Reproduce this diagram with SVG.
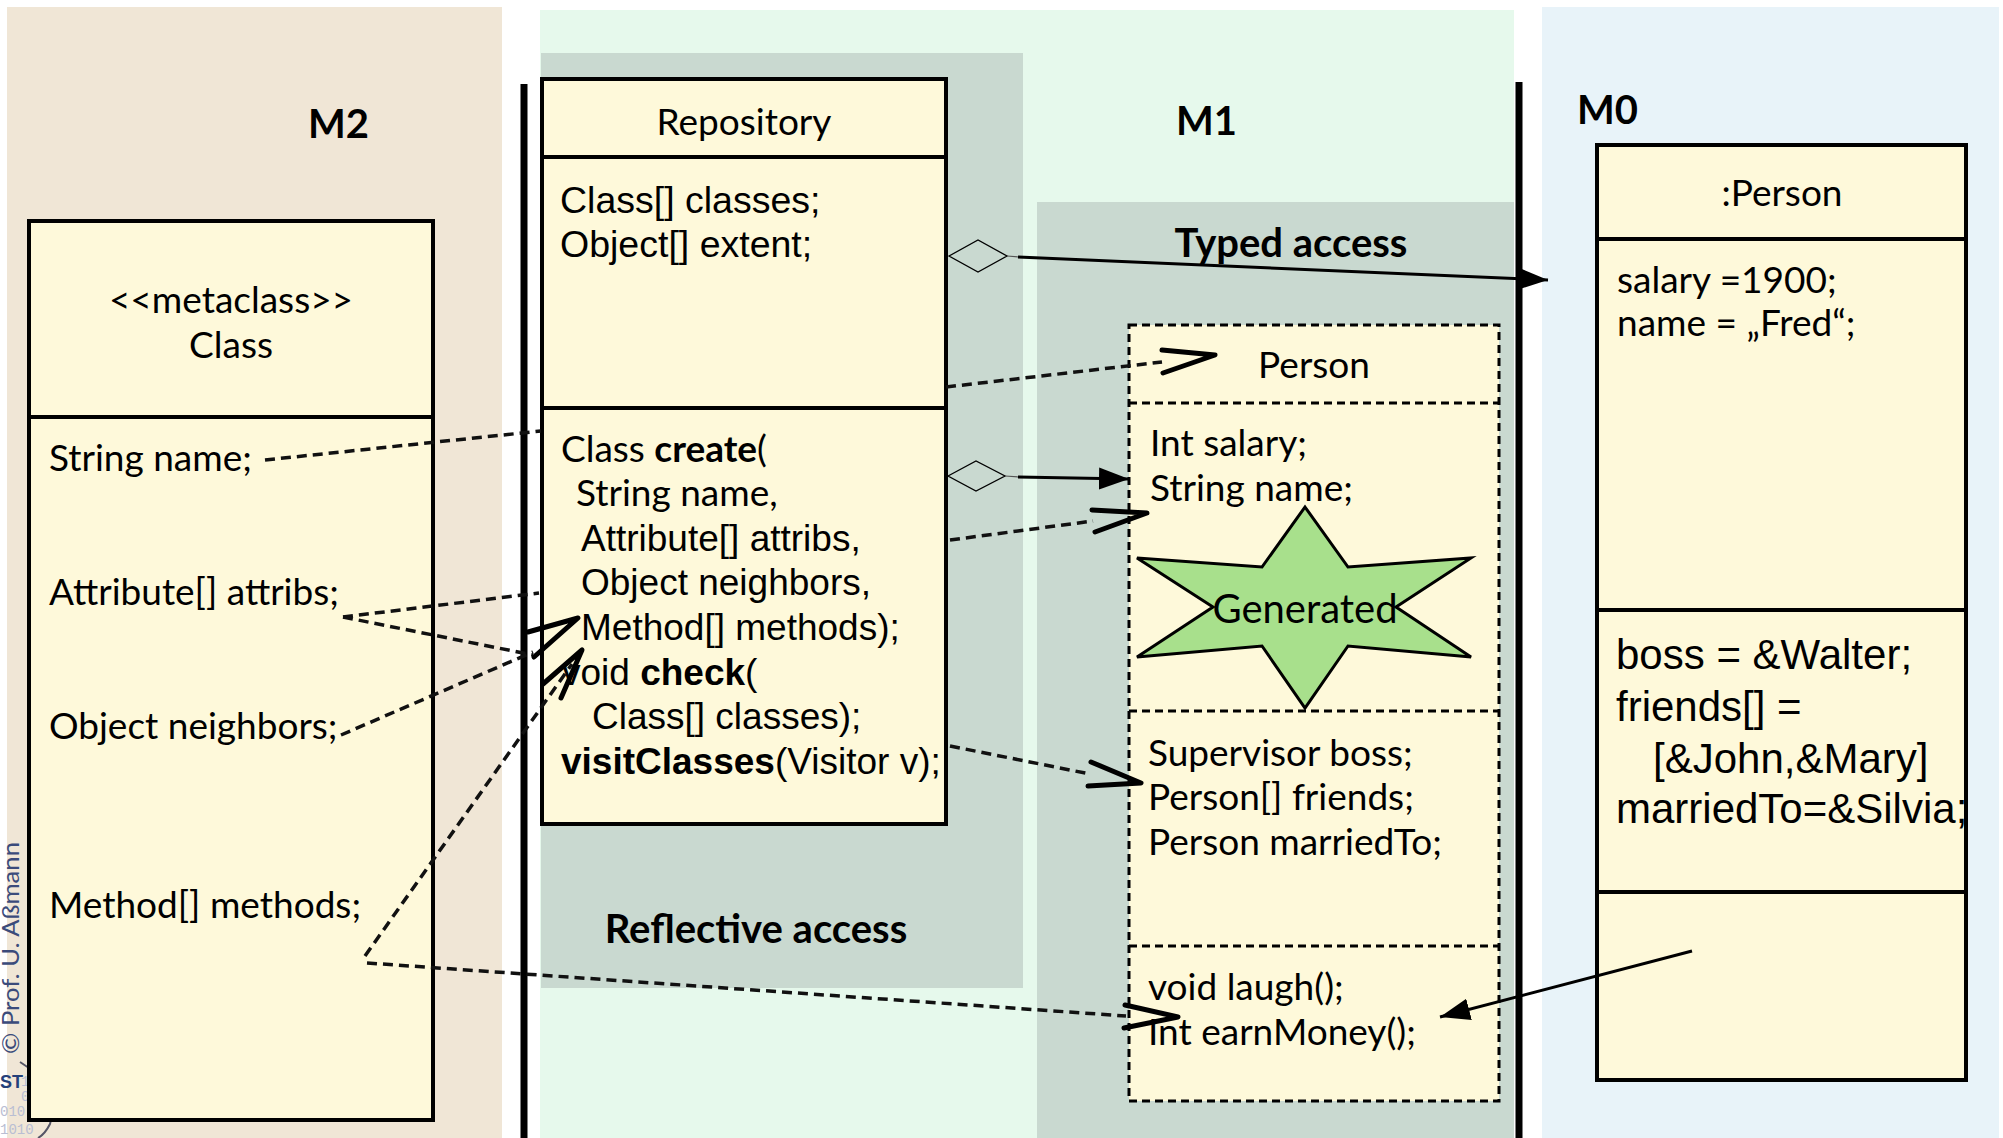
<svg xmlns="http://www.w3.org/2000/svg" width="2003" height="1138" viewBox="0 0 2003 1138">
  <defs>
    <style>
      .lato { font-family: Lato, "Liberation Sans", sans-serif; fill: #000; }
      .arial { font-family: "Liberation Sans", Arial, sans-serif; fill: #000; }
      .lbl { font-family: Lato, "Liberation Sans", sans-serif; font-weight: bold; fill: #000; }
      .box { fill: #FEF9DA; stroke: #000; stroke-width: 4; }
      .div { stroke: #000; stroke-width: 4; }
      .dbox { fill: #FEF9DA; stroke: #000; stroke-width: 3; stroke-dasharray: 8 5; }
      .ddiv { stroke: #000; stroke-width: 3; stroke-dasharray: 8 5; }
      .dash { fill: none; stroke: #111; stroke-width: 3.5; stroke-dasharray: 10 6; }
      .vee { fill: none; stroke: #000; stroke-width: 5; stroke-linecap: round; stroke-linejoin: round; }
      .solid { fill: none; stroke: #000; stroke-width: 3; }
      .thin { fill: none; stroke: #555; stroke-width: 1.2; }
      .diamond { fill: none; stroke: #000; stroke-width: 1.3; }
      .rule { stroke: #000; stroke-width: 7; }
    </style>
    <marker id="filled" markerUnits="userSpaceOnUse" markerWidth="32" markerHeight="24" refX="30" refY="11" orient="auto">
      <path d="M0,0 L30,11 L0,22 z" fill="#000"/>
    </marker>
  </defs>

  <rect width="2003" height="1138" fill="#fff"/>

  <!-- layer panels -->
  <g id="panels">
    <rect x="7" y="7" width="495" height="1131" fill="#F0E6D6"/>
    <rect x="540" y="10" width="974" height="1128" fill="#E6F9EC"/>
    <rect x="541" y="53" width="482" height="935" fill="#C9D9D0"/>
    <rect x="1037" y="202" width="477" height="936" fill="#C9D9D0"/>
    <rect x="1542" y="7" width="457" height="1131" fill="#E8F3F9"/>
  </g>

  <!-- copyright and logo fragment -->
  <g id="credit">
    <text class="lato" transform="translate(19,1054) rotate(-90)" font-size="23" style="fill:#3B4B7B" textLength="212" lengthAdjust="spacingAndGlyphs">© Prof. U. Aßmann</text>
    <text x="0" y="1088" font-family="Liberation Sans, sans-serif" font-weight="bold" font-size="18" fill="#24407A">ST</text>
    <text x="21" y="1086" font-family="Liberation Mono, monospace" font-size="14" fill="#B9BED3">1</text>
    <text x="21" y="1101" font-family="Liberation Mono, monospace" font-size="14" fill="#B9BED3">0</text>
    <text x="0" y="1116" font-family="Liberation Mono, monospace" font-size="14" fill="#B9BED3">010</text>
    <text x="0" y="1134" font-family="Liberation Mono, monospace" font-size="14" fill="#B9BED3">1010</text>
    <path d="M20,1062 Q62,1088 50,1124 Q45,1134 38,1138" fill="none" stroke="#556" stroke-width="2"/>
  </g>

  <!-- level titles and area labels -->
  <g id="labels">
    <text class="lbl" x="308" y="138" font-size="40">M2</text>
    <text class="lbl" x="1176" y="135" font-size="40">M1</text>
    <text class="lbl" x="1577" y="124" font-size="40">M0</text>
    <text class="lbl" x="1291" y="257" font-size="40" text-anchor="middle">Typed access</text>
    <text class="lbl" x="756" y="943" font-size="40" text-anchor="middle">Reflective access</text>
  </g>

  <!-- level separators -->
  <g id="separators">
    <line class="rule" x1="524" y1="84" x2="524" y2="1138"/>
    <line class="rule" x1="1519" y1="82" x2="1519" y2="1138"/>
  </g>

  <!-- M2: metaclass Class -->
  <g id="metaclass-class">
    <rect class="box" x="29" y="221" width="404" height="899"/>
    <line class="div" x1="29" y1="417" x2="433" y2="417"/>
    <text class="lato" x="231" y="313" font-size="37" text-anchor="middle">&lt;&lt;metaclass&gt;&gt;</text>
    <text class="lato" x="231" y="358" font-size="37" text-anchor="middle">Class</text>
    <text class="lato" x="49" y="471" font-size="37">String name;</text>
    <text class="lato" x="49" y="605" font-size="37">Attribute[] attribs;</text>
    <text class="lato" x="49" y="739" font-size="37">Object neighbors;</text>
    <text class="lato" x="49" y="918" font-size="37">Method[] methods;</text>
  </g>

  <!-- M1: Repository -->
  <g id="repository">
    <rect class="box" x="542" y="79" width="404" height="745"/>
    <line class="div" x1="542" y1="157" x2="946" y2="157"/>
    <line class="div" x1="542" y1="408" x2="946" y2="408"/>
    <text class="lato" x="744" y="135" font-size="37" text-anchor="middle">Repository</text>
    <text class="arial" x="560" y="213" font-size="37.5">Class[] classes;</text>
    <text class="arial" x="560" y="257" font-size="37.5">Object[] extent;</text>
    <text class="lato" x="561" y="462" font-size="37">Class <tspan font-weight="bold">create</tspan>(</text>
    <text class="lato" x="576" y="506" font-size="37">String name,</text>
    <text class="arial" x="581" y="551" font-size="37">Attribute[] attribs,</text>
    <text class="arial" x="581" y="595" font-size="37">Object neighbors,</text>
    <text class="arial" x="581" y="640" font-size="37">Method[] methods);</text>
    <text class="arial" x="562" y="685" font-size="37">void <tspan font-weight="bold">check</tspan>(</text>
    <text class="arial" x="592" y="729" font-size="37">Class[] classes);</text>
    <text class="arial" x="561" y="774" font-size="37"><tspan font-weight="bold">visitClasses</tspan>(Visitor v);</text>
  </g>

  <!-- M1: generated class Person -->
  <g id="person-class">
    <rect class="dbox" x="1129" y="325" width="370" height="776"/>
    <line class="ddiv" x1="1129" y1="403" x2="1499" y2="403"/>
    <line class="ddiv" x1="1129" y1="711" x2="1499" y2="711"/>
    <line class="ddiv" x1="1129" y1="946" x2="1499" y2="946"/>
    <text class="lato" x="1314" y="378" font-size="37" text-anchor="middle">Person</text>
    <text class="lato" x="1150" y="456" font-size="37">Int salary;</text>
    <text class="lato" x="1150" y="501" font-size="37">String name;</text>
    <polygon points="1305,507 1348,567 1471,558 1396,607 1471,657 1348,646 1305,708 1262,646 1137,657 1213,607 1137,558 1262,567" fill="#A8E08C" stroke="#000" stroke-width="3" stroke-linejoin="miter"/>
    <text class="lato" x="1305" y="623" font-size="40" text-anchor="middle">Generated</text>
    <text class="lato" x="1148" y="766" font-size="37">Supervisor boss;</text>
    <text class="lato" x="1148" y="810" font-size="37">Person[] friends;</text>
    <text class="lato" x="1148" y="855" font-size="37">Person marriedTo;</text>
    <text class="lato" x="1148" y="1000" font-size="37">void laugh();</text>
    <text class="lato" x="1148" y="1045" font-size="37">Int earnMoney();</text>
  </g>

  <!-- M0: object :Person -->
  <g id="person-object">
    <rect class="box" x="1597" y="145" width="369" height="935"/>
    <line class="div" x1="1597" y1="239" x2="1966" y2="239"/>
    <line class="div" x1="1597" y1="610" x2="1966" y2="610"/>
    <line class="div" x1="1597" y1="892" x2="1966" y2="892"/>
    <text class="lato" x="1782" y="206" font-size="37" text-anchor="middle">:Person</text>
    <text class="lato" x="1617" y="293" font-size="37">salary =1900;</text>
    <text class="lato" x="1617" y="336" font-size="37">name = „Fred“;</text>
    <text class="arial" x="1616" y="669" font-size="42">boss = &amp;Walter;</text>
    <text class="arial" x="1616" y="721" font-size="42">friends[] =</text>
    <text class="arial" x="1653" y="773" font-size="42">[&amp;John,&amp;Mary]</text>
    <text class="arial" x="1616" y="823" font-size="42">marriedTo=&amp;Silvia;</text>
  </g>

  <!-- connectors -->
  <g id="connectors">
    <!-- metaclass attributes to reflective repository -->
    <line class="dash" x1="265" y1="460" x2="541" y2="431"/>
    <line class="dash" x1="343" y1="617" x2="539" y2="593"/>
    <line class="dash" x1="343" y1="617" x2="533" y2="655"/>
    <line class="dash" x1="341" y1="735" x2="533" y2="652"/>
    <polyline class="vee" points="528,632 578,618 534,657"/>
    <line class="dash" x1="365" y1="956" x2="572" y2="664"/>
    <polyline class="vee" points="543,684 582,650 561,698"/>
    <line class="dash" x1="367" y1="963" x2="1126" y2="1016"/>
    <polyline class="vee" points="1125,1005 1178,1017 1124,1028"/>

    <!-- repository to typed Person -->
    <line class="dash" x1="946" y1="387" x2="1162" y2="362"/>
    <polyline class="vee" points="1162,350 1215,355 1163,373"/>
    <line class="dash" x1="950" y1="540" x2="1093" y2="521"/>
    <polyline class="vee" points="1092,510 1147,513 1095,532"/>
    <line class="dash" x1="950" y1="746" x2="1090" y2="774"/>
    <polyline class="vee" points="1091,762 1141,783 1088,786"/>

    <!-- aggregations from the repository -->
    <polygon class="diamond" points="949,256 978,240 1007,256 978,272"/>
    <line class="thin" x1="1007" y1="256" x2="1019" y2="257"/>
    <line class="solid" x1="1018" y1="257" x2="1548" y2="280" marker-end="url(#filled)"/>
    <polygon class="diamond" points="948,476 976,461 1005,476 976,491"/>
    <line class="thin" x1="1005" y1="476" x2="1019" y2="477"/>
    <line class="solid" x1="1018" y1="477" x2="1129" y2="479" marker-end="url(#filled)"/>

    <!-- object behaviour to class method -->
    <line class="solid" x1="1692" y1="951" x2="1440" y2="1017" marker-end="url(#filled)"/>
  </g>
</svg>
